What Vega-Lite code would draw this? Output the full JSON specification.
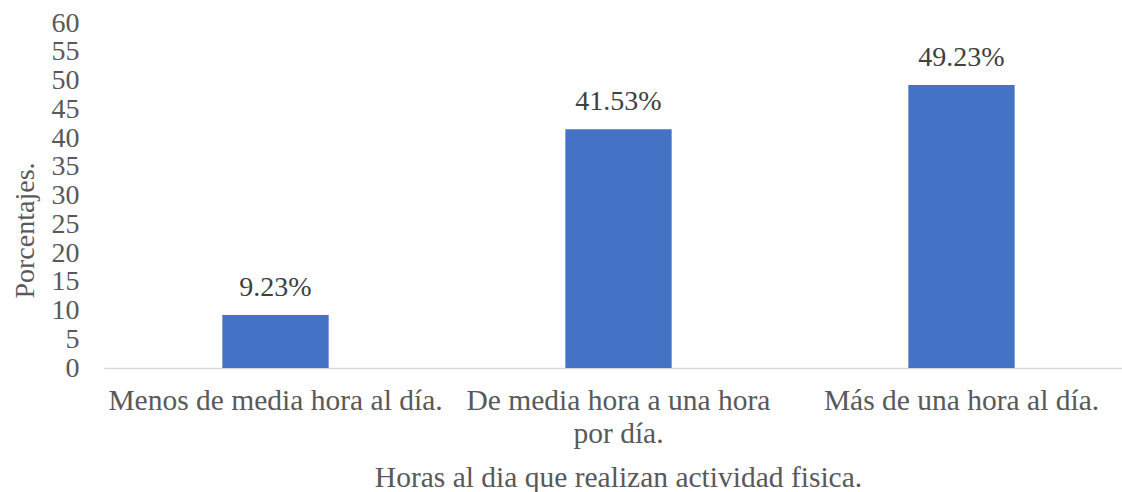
{
  "$schema": "https://vega.github.io/schema/vega-lite/v6.json",
  "autosize": "none",
  "width": 1029,
  "height": 345,
  "padding": {"left": 104, "top": 23, "right": 0, "bottom": 124},
  "background": "white",
  "config": {"view": {"stroke": null}, "font": "Times New Roman, Liberation Serif, serif"},
  "data": {
    "values": [
      {"categoria": "Menos de media hora al día.", "porcentaje": 9.23, "etiqueta": "9.23%"},
      {"categoria": "De media hora a una hora por día.", "porcentaje": 41.53, "etiqueta": "41.53%"},
      {"categoria": "Más de una hora al día.", "porcentaje": 49.23, "etiqueta": "49.23%"}
    ]
  },
  "encoding": {
    "x": {
      "field": "categoria",
      "type": "nominal",
      "sort": null,
      "scale": {"paddingInner": 0.69, "paddingOuter": 0.345},
      "axis": {
        "title": "Horas al dia que realizan actividad fisica.",
        "titleFont": "Times New Roman, Liberation Serif, serif",
        "titleFontSize": 29.5,
        "titleFontWeight": "normal",
        "titleColor": "#595959",
        "titleX": 514,
        "titleY": 118,
        "titleBaseline": "alphabetic",
        "labelAngle": 0,
        "labelFont": "Times New Roman, Liberation Serif, serif",
        "labelFontSize": 29.5,
        "labelColor": "#595959",
        "labelPadding": 18,
        "labelLimit": 500,
        "labelLineHeight": 33,
        "labelExpr": "datum.label == 'De media hora a una hora por día.' ? ['De media hora a una hora', 'por día.'] : datum.label",
        "ticks": false,
        "domainColor": "#d9d9d9",
        "domainWidth": 1.5,
        "grid": false
      }
    },
    "y": {
      "field": "porcentaje",
      "type": "quantitative",
      "scale": {"domain": [0, 60], "nice": false},
      "axis": {
        "title": "Porcentajes.",
        "titleFont": "Times New Roman, Liberation Serif, serif",
        "titleFontSize": 28,
        "titleFontWeight": "normal",
        "titleColor": "#595959",
        "titleAngle": -90,
        "titleAlign": "center",
        "titleBaseline": "middle",
        "titleX": -79,
        "titleY": 207,
        "values": [0, 5, 10, 15, 20, 25, 30, 35, 40, 45, 50, 55, 60],
        "labelFont": "Times New Roman, Liberation Serif, serif",
        "labelFontSize": 28,
        "labelColor": "#595959",
        "labelPadding": 25,
        "labelOverlap": false,
        "labelFlush": false,
        "ticks": false,
        "domain": false,
        "grid": false
      }
    }
  },
  "layer": [
    {"mark": {"type": "bar", "color": "#4472C4"}},
    {
      "mark": {"type": "text", "dy": -19, "baseline": "alphabetic", "font": "Times New Roman, Liberation Serif, serif", "fontSize": 28, "color": "#404040"},
      "encoding": {"text": {"field": "etiqueta"}}
    }
  ]
}
